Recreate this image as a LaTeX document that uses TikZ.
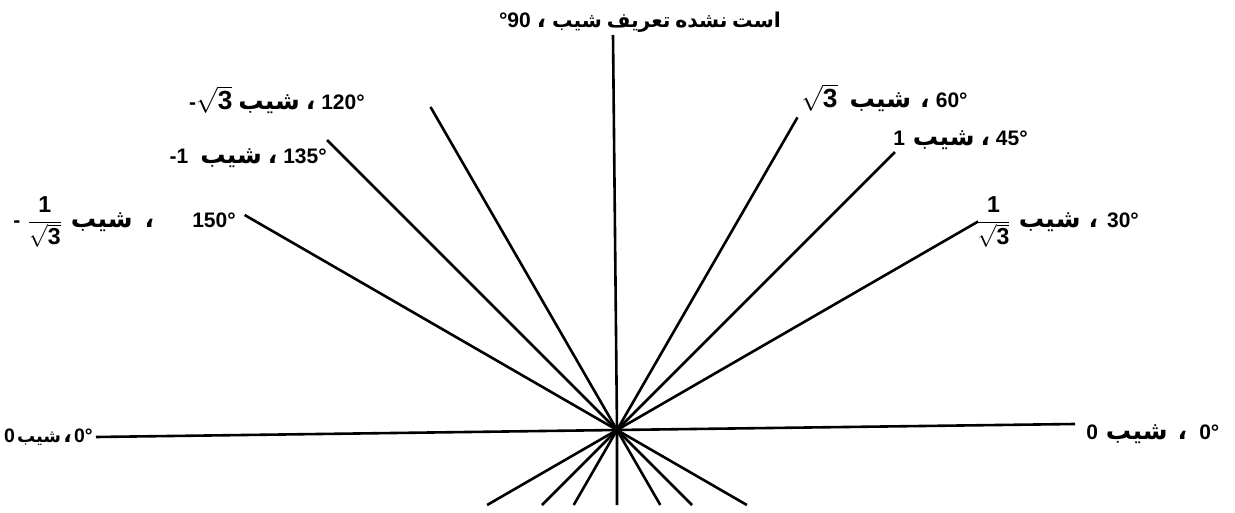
\documentclass[tikz,border=0pt]{standalone}
\usepackage{fontspec}
\usepackage{graphicx}
\setmainfont{Liberation Sans}
\newfontfamily\arabicfont[Script=Arabic,Scale=1.2]{DejaVu Sans}
\TeXXeTstate=1
\usetikzlibrary{calc}
\newcommand{\ar}[1]{{\arabicfont\beginR #1\endR}}
\newcommand{\rtt}{\scalebox{1.25}{$\sqrt{\mbox{3}}$}}
\newcommand{\fr}{\scalebox{1.1}{$\displaystyle\frac{\mbox{1}}{\sqrt{\mbox{3}}}$}}
\begin{document}
\begin{tikzpicture}[x=1pt,y=1pt,line width=2.6pt,
  lbl/.style={inner sep=0pt,font=\fontsize{21}{25}\selectfont\bfseries}]
\useasboundingbox (0,0) rectangle (1235,512);
\coordinate (C) at (617,82);
\coordinate (h1) at (96,75);
\coordinate (h2) at (1075,88);
\coordinate (v1) at (613,477);
\coordinate (v2) at (617,7);
\foreach \a/\r in {30/417,45/393,60/361,120/373,135/410,150/430}{
  \coordinate (u\a) at ($(C)+(\a:\r)$);
  \coordinate (d\a) at ($(C)+(\a+180:{75/sin(\a)})$);
}
\draw (h1) -- (C) -- (h2);
\draw (v1) -- (C) -- (v2);
\foreach \a in {30,45,60,120,135,150}{
  \draw (u\a) -- (C) -- (d\a);
}
% labels
\node[lbl] (l90) at (640,490) {°90 \ar{،} {\fontsize{17}{20}\selectfont\ar{شیب} \ar{تعریف} \ar{نشده} \ar{است}}};
\node[lbl,anchor=east] (l120) at (366,412) {-\rtt\ \ar{شیب} \ar{،} 120°};
\node[lbl,anchor=east] (l135) at (328,354) {-1\hspace{12pt}\ar{شیب} \ar{،} 135°};
\node[lbl,anchor=east] (l150) at (237,290) {-\hspace{7pt}\fr\hspace{9pt}\ar{شیب}\hspace{12pt}\ar{،}\hspace{38pt}150°};
\node[lbl,anchor=west] (l60) at (800,414) {\rtt\hspace{12pt}\ar{شیب}\hspace{9pt}\ar{،}\hspace{6pt}60°};
\node[lbl,anchor=west] (l45) at (892,372) {1\hspace{8pt}\ar{شیب} \ar{،} 45°};
\node[lbl,anchor=west] (l30) at (975,290) {\fr\hspace{8pt}\ar{شیب}\hspace{8pt}\ar{،}\hspace{9pt}30°};
\node[lbl,anchor=east,font=\fontsize{19.5}{23}\selectfont\bfseries] (l0a) at (94,75) {0\hspace{2pt}{\fontsize{15}{18}\selectfont\ar{شیب}}\hspace{2pt}\ar{،}\hspace{2pt}0°};
\node[lbl,anchor=west] (l0b) at (1085,78) {0\hspace{8pt}\ar{شیب}\hspace{10pt}\ar{،}\hspace{12pt}0°};
\end{tikzpicture}
\end{document}
